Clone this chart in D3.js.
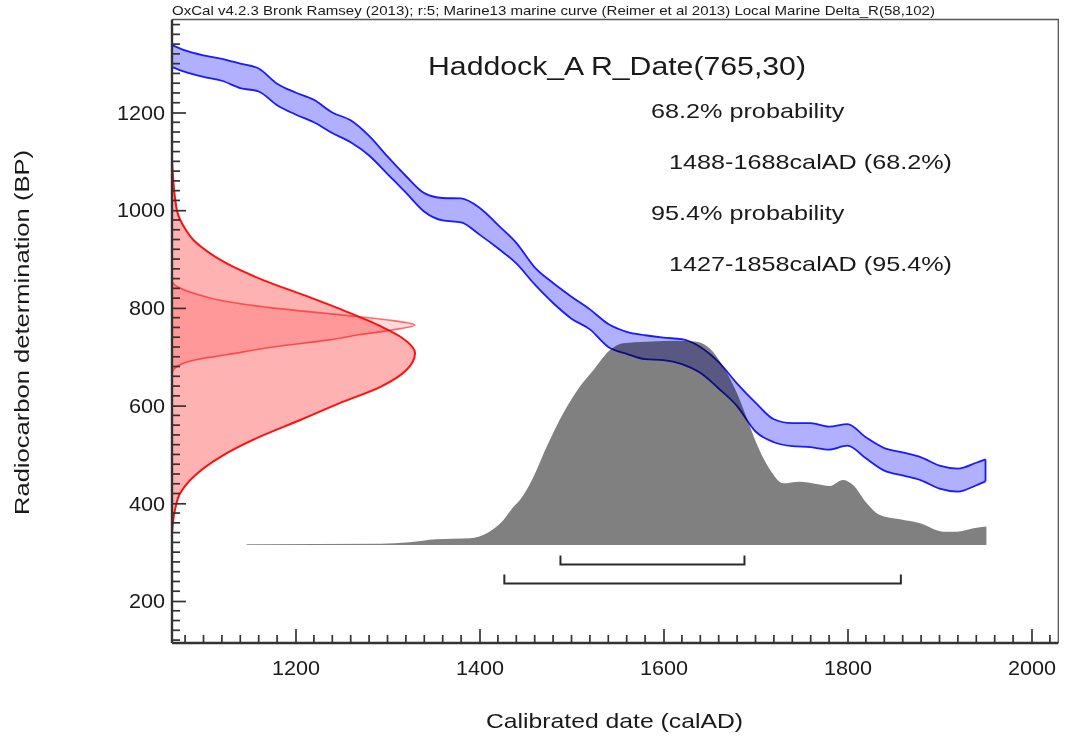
<!DOCTYPE html>
<html><head><meta charset="utf-8">
<script src="https://cdn.jsdelivr.net/npm/d3@7"></script>
<style>body{margin:0;background:#fff} svg{display:block} text{font-family:"Liberation Sans",Arial,sans-serif;fill:#1a1a1a}</style>
</head><body><svg id="c" width="1068" height="738"></svg>
<script>
// ---- data ----
const curveYears=[1066,1080,1100,1120,1140,1160,1180,1200,1220,1240,1260,1280,1300,1320,1340,1360,1380,1400,1420,1440,1460,1480,1500,1520,1540,1560,1580,1600,1620,1640,1660,1680,1700,1720,1740,1760,1780,1800,1820,1840,1860,1880,1900,1920,1940,1950];
const curveUpper=[1338,1327,1317,1310,1300,1290,1259,1241,1226,1200,1184,1152,1110,1070,1035,1025,1024,1005,970,933,883,851,823,797,767,751,744,739,736,720,689,645,606,572,564,564,557,562,535,513,504,494,477,471,483,490];
const curveLower=[1293,1283,1273,1265,1250,1243,1215,1196,1180,1158,1139,1112,1074,1036,997,979,975,950,922,891,848,810,778,756,720,706,695,693,685,667,635,599,547,525,517,515,510,518,492,467,457,447,430,424,437,445];

const probYears=[1147,1292,1324,1353,1390,1408,1426,1437,1444,1457,1473,1491,1509,1524,1542,1556,1582,1618,1636,1650,1665,1680,1690,1701,1716,1730,1748,1766,1781,1795,1806,1821,1835,1857,1879,1904,1919,1937,1951];
const probValues=[0.004,0.006,0.013,0.028,0.033,0.057,0.122,0.187,0.22,0.318,0.481,0.645,0.775,0.857,0.954,0.987,0.995,1.0,0.995,0.963,0.873,0.742,0.628,0.498,0.367,0.302,0.31,0.299,0.289,0.318,0.294,0.204,0.147,0.126,0.106,0.065,0.065,0.082,0.09];

// corrected date likelihood (outer red)
const dateBP=[1103,1000,959,939,925,891,857,823,792,762,741,707,673,639,605,571,536,495,454,420,386,339];
const dateDensity=[0,0.02,0.058,0.088,0.12,0.225,0.375,0.56,0.72,0.86,0.94,1.0,0.965,0.86,0.69,0.53,0.36,0.2,0.088,0.033,0.012,0];
// raw measurement (inner red)
const rawBP=[857,850,830,813,799,789,782,774,765,755,745,734,721,704,693,680,667];
const rawDensity=[0,0.005,0.09,0.225,0.43,0.63,0.77,0.91,1.0,0.91,0.77,0.64,0.43,0.225,0.09,0.02,0];

const range68=[1488,1688];
const range95=[1427,1858];
const xTicks=[1200,1400,1600,1800,2000];
const yTicks=[200,400,600,800,1000,1200];
const header="OxCal v4.2.3 Bronk Ramsey (2013); r:5; Marine13 marine curve (Reimer et al 2013) Local Marine Delta_R(58,102)";
const title="Haddock_A R_Date(765,30)";
const rangeLines=["68.2% probability","1488-1688calAD (68.2%)","95.4% probability","1427-1858calAD (95.4%)"];
const xTitle="Calibrated date (calAD)";
const yTitle="Radiocarbon determination (BP)";

(function(){
const svg=d3.select("#c");
const x=d3.scaleLinear().domain([1200,2000]).range([295.5,1031.5]);
const y=d3.scaleLinear().domain([200,1200]).range([601,112.5]);
const L=172, R=1058.3, T=19.5, B=643;
const xd=d3.scaleLinear().domain([0,1]).range([L,415]);
const yp=d3.scaleLinear().domain([0,1]).range([545,340.7]);

// red distributions
const outer=dateBP.map((b,i)=>({b,d:dateDensity[i]}));
const inner=rawBP.map((b,i)=>({b,d:rawDensity[i]}));
const hArea=d3.area().y(d=>y(d.b)).x0(L).x1(d=>xd(d.d)).curve(d3.curveMonotoneY);
const hLine=d3.line().y(d=>y(d.b)).x(d=>xd(d.d)).curve(d3.curveMonotoneY);
svg.append("path").attr("d",hArea(outer)).attr("fill","rgba(255,0,0,0.3)");
svg.append("path").attr("d",hLine(outer)).attr("fill","none").attr("stroke","#ff1010").attr("stroke-width",2);
svg.append("path").attr("d",hArea(inner)).attr("fill","rgba(255,0,0,0.14)");
svg.append("path").attr("d",hLine(inner)).attr("fill","none").attr("stroke","rgba(255,0,0,0.55)").attr("stroke-width",1.6);

// calibrated probability
const prob=probYears.map((t,i)=>({t,p:probValues[i]}));
svg.append("path").attr("d",d3.area().x(d=>x(d.t)).y0(yp(0)).y1(d=>yp(d.p)).curve(d3.curveMonotoneX)(prob))
  .attr("fill","#808080");

// calibration curve band
const band=curveYears.map((t,i)=>({t,u:curveUpper[i],l:curveLower[i]}));
const g=svg.append("g").style("mix-blend-mode","multiply");
g.append("path").attr("d",d3.area().x(d=>x(d.t)).y0(d=>y(d.l)).y1(d=>y(d.u)).curve(d3.curveMonotoneX)(band))
  .attr("fill","#b0b0ff");
g.append("path").attr("d",d3.line().x(d=>x(d.t)).y(d=>y(d.u)).curve(d3.curveMonotoneX)(band)).attr("fill","none").attr("stroke","#1a1aff").attr("stroke-width",1.8);
g.append("path").attr("d",d3.line().x(d=>x(d.t)).y(d=>y(d.l)).curve(d3.curveMonotoneX)(band)).attr("fill","none").attr("stroke","#1a1aff").attr("stroke-width",1.8);
const last=band[band.length-1];
g.append("line").attr("x1",x(last.t)).attr("x2",x(last.t)).attr("y1",y(last.u)).attr("y2",y(last.l)).attr("stroke","#1a1aff").attr("stroke-width",1.8);

// range brackets
function bracket(r,yy){
  svg.append("path").attr("d",`M${x(r[0])},${yy-9}V${yy}H${x(r[1])}V${yy-9}`)
    .attr("fill","none").attr("stroke","#2a2a2a").attr("stroke-width",2);
}
bracket(range68,564.5);
bracket(range95,583.5);

// frame
svg.append("path").attr("d",`M${L},${T}H${R}V${B}`).attr("fill","none").attr("stroke","#555").attr("stroke-width",1.3);

// stretched text helper (reference glyphs are horizontally stretched)
function stretch(sel,fs,k){
  sel.attr("font-size",fs).each(function(){
    const w=this.getComputedTextLength();
    d3.select(this).attr("textLength",w*k).attr("lengthAdjust","spacingAndGlyphs");
  });
}

// axes
const xAxis=svg.append("g").attr("transform",`translate(0,${B})`);
xAxis.call(d3.axisBottom(x).tickValues(xTicks).tickSize(-14).tickPadding(17).tickFormat(d3.format("d")));
const xMinor=d3.range(1080,2030,20).filter(v=>!xTicks.includes(v));
xAxis.selectAll(".minor").data(xMinor).enter().append("line").attr("class","minor")
  .attr("x1",d=>x(d)).attr("x2",d=>x(d)).attr("y1",0).attr("y2",-8);
const yAxis=svg.append("g").attr("transform",`translate(${L},0)`);
yAxis.call(d3.axisLeft(y).tickValues(yTicks).tickSize(-14).tickPadding(7).tickFormat(d3.format("d")));
const yMinor=d3.range(120,1390,20).filter(v=>!yTicks.includes(v));
yAxis.selectAll(".minor").data(yMinor).enter().append("line").attr("class","minor")
  .attr("y1",d=>y(d)).attr("y2",d=>y(d)).attr("x1",0).attr("x2",8);
[xAxis,yAxis].forEach(a=>{
  a.select(".domain").remove();
  a.selectAll("line").attr("stroke","#333").attr("stroke-width",1.7);
  a.selectAll("text").attr("fill","#1a1a1a").attr("font-family","Liberation Sans, Arial, sans-serif");
  stretch(a.selectAll("text"),21,1.03);
});
svg.append("line").attr("x1",L).attr("x2",R).attr("y1",B).attr("y2",B).attr("stroke","#333").attr("stroke-width",2.4);
svg.append("line").attr("x1",L).attr("x2",L).attr("y1",T).attr("y2",B).attr("stroke","#333").attr("stroke-width",2.4);

// texts
svg.append("text").attr("x",L).attr("y",15).attr("font-size",13).attr("textLength",763).attr("lengthAdjust","spacingAndGlyphs").text(header);
svg.append("text").attr("x",428).attr("y",74.5).attr("font-size",25).attr("textLength",378).attr("lengthAdjust","spacingAndGlyphs").text(title);
const rx=[651,669,651,669], ry=[118,169,220,270.5];
rangeLines.forEach((s,i)=>stretch(svg.append("text").attr("x",rx[i]).attr("y",ry[i]).text(s),21,1.2));
svg.append("text").attr("x",614.5).attr("y",728).attr("text-anchor","middle").attr("font-size",21).attr("textLength",257).attr("lengthAdjust","spacingAndGlyphs").text(xTitle);
svg.append("text").attr("transform","translate(29,332.5) rotate(-90)").attr("text-anchor","middle").attr("font-size",21).attr("textLength",365).attr("lengthAdjust","spacingAndGlyphs").text(yTitle);
})();
</script></body></html>
